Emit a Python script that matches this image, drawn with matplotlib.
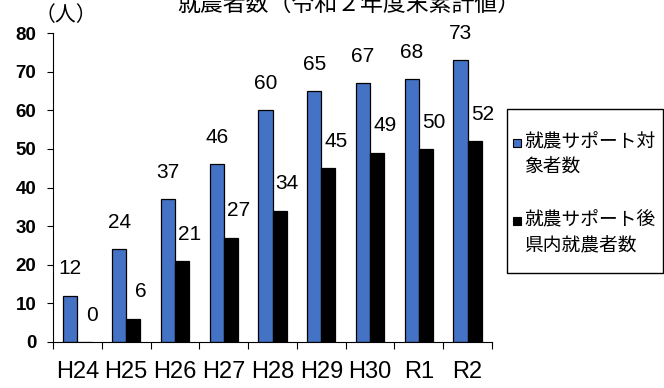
import matplotlib
matplotlib.use("Agg")
import matplotlib.pyplot as plt
import numpy as np
from matplotlib.patches import Rectangle

# 年度別の累計値
years = ["H24", "H25", "H26", "H27", "H28", "H29", "H30", "R1", "R2"]
support = [12, 24, 37, 46, 60, 65, 67, 68, 73]
settled = [0, 6, 21, 27, 34, 45, 49, 50, 52]
label_support = "就農サポート対\n象者数"
label_settled = "就農サポート後\n県内就農者数"
title = "就農者数（令和２年度末累計値）"

num_font = ["Liberation Sans", "DejaVu Sans"]
jp_font = ["Noto Sans CJK JP", "DejaVu Sans"]

blue = "#4472C4"
W, H = 664, 388

fig = plt.figure(figsize=(W / 100, H / 100), dpi=100)
ax = fig.add_axes([53 / W, 1 - 342 / H, (492 - 53) / W, (342 - 33) / H])

x = np.arange(len(years))
w = 0.29
b1 = ax.bar(x - w / 2, support, w, color=blue, edgecolor="black", linewidth=0.9)
b2 = ax.bar(x + w / 2, settled, w, color="black", edgecolor="black", linewidth=0.9)

for rect, v in zip(b1, support):
    ax.annotate(str(v), (rect.get_x() + rect.get_width() / 2, v),
                xytext=(0, 12.5), textcoords="offset points",
                ha="center", va="bottom", fontsize=15, family=num_font)
for rect, v in zip(b2, settled):
    ax.annotate(str(v), (rect.get_x() + rect.get_width() / 2, v),
                xytext=(5.5, 12.5), textcoords="offset points",
                ha="center", va="bottom", fontsize=15, family=num_font)

ax.set_xlim(-0.5, len(years) - 0.5)
ax.set_ylim(0, 80)
ax.set_yticks(range(0, 81, 10))
ax.set_xticks(x)
ax.set_xticklabels(years, family=num_font, fontsize=17)
ax.set_xticks(np.arange(-0.5, len(years)), minor=True)
ax.tick_params(axis="x", which="major", length=0, pad=13.5)
ax.tick_params(axis="x", which="minor", length=5, direction="out", width=0.8)
ax.tick_params(axis="y", length=4, direction="out", width=0.8, pad=8)
for t in ax.get_yticklabels():
    t.set_family(num_font)
    t.set_fontsize(13.5)
    t.set_fontweight("bold")

ax.spines["top"].set_visible(False)
ax.spines["right"].set_visible(False)
ax.spines["left"].set_linewidth(0.8)
ax.spines["bottom"].set_linewidth(0.8)

fig.text(349 / W, 1 - 11 / H, title, ha="center", va="baseline",
         fontsize=16.5, family=jp_font)
fig.text(66 / W, 1 - 15 / H, "（人）", ha="center", va="center",
         fontsize=15, family=jp_font)

# 凡例の枠とマーカー
fig.add_artist(Rectangle((507 / W, 1 - 273 / H), 156 / W, 164 / H,
                         transform=fig.transFigure, fill=False,
                         edgecolor="black", linewidth=1.0))
for y0, color, text in [(143, blue, label_support), (221, "black", label_settled)]:
    fig.add_artist(Rectangle((513 / W, 1 - (y0 + 4) / H), 8 / W, 8 / H,
                             transform=fig.transFigure, facecolor=color,
                             edgecolor="black", linewidth=0.8))
    fig.text(524 / W, 1 - (y0 - 12) / H, text, ha="left", va="top",
             fontsize=13.5, family=jp_font, linespacing=1.25)

fig.savefig("out.png", dpi=100)
